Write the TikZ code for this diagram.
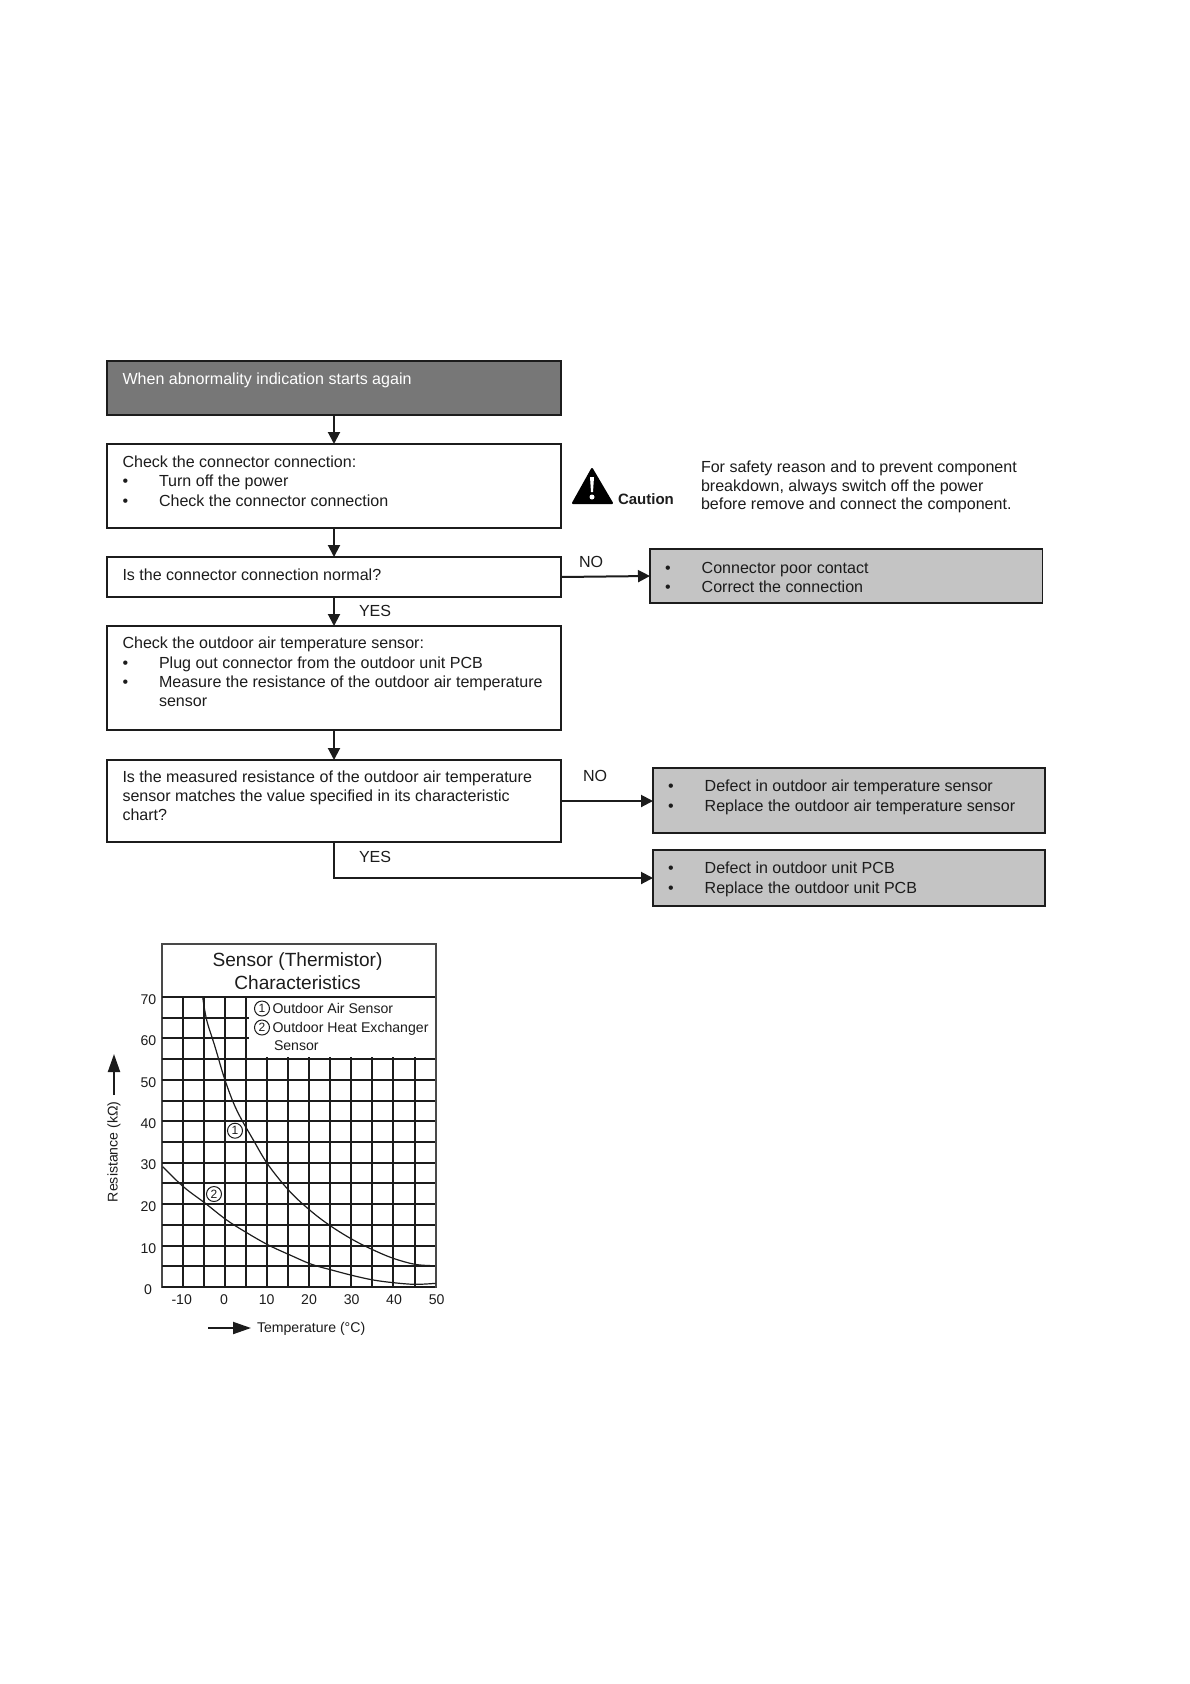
\documentclass[tikz,border=0pt]{standalone}
\usepackage{fontspec}
\setmainfont{Liberation Sans}
\usetikzlibrary{arrows.meta}
\definecolor{ink}{HTML}{1C1C1C}
\definecolor{headgrey}{HTML}{777777}
\definecolor{boxgrey}{HTML}{C4C4C4}
\tikzset{
  box/.style={draw=ink,line width=1.5pt,inner sep=0pt,outer sep=0pt,anchor=north west},
  whitebox/.style={box,fill=white},
  greybox/.style={box,fill=boxgrey},
  headbox/.style={box,fill=headgrey},
  txt/.style={anchor=base west,inner sep=0pt,outer sep=0pt,text=ink,font=\fontsize{16.05}{19}\selectfont},
  chart/.style={anchor=base west,inner sep=0pt,outer sep=0pt,text=ink,font=\fontsize{14.1}{17}\selectfont},
  tick/.style={anchor=center,inner sep=0pt,outer sep=0pt,text=ink,font=\fontsize{14.1}{17}\selectfont},
  ctitle/.style={anchor=base,inner sep=0pt,outer sep=0pt,text=ink,font=\fontsize{19.1}{22}\selectfont},
  num/.style={draw=ink,line width=1pt,circle,minimum size=15pt,inner sep=0pt,text=ink,font=\fontsize{12}{12}\selectfont},
  flow/.style={draw=ink,line width=2pt,-{Triangle[length=12pt,width=12pt]}},
  gridline/.style={draw=ink,line width=1.6pt},
  curve/.style={draw=ink,line width=1.2pt},
  axisarrow/.style={draw=ink,line width=2pt,-{Triangle[length=18pt,width=12pt]}}
}
\begin{document}
\begin{tikzpicture}[x=1pt,y=-1pt]
\useasboundingbox (0,0) rectangle (1190,1684);
\fill[white] (0,0) rectangle (1190,1684);
% boxes
\node[headbox,minimum width=454pt,minimum height=54pt] (head) at (107,361) {};
\node[whitebox,minimum width=454pt,minimum height=84pt] (chk) at (107,444) {};
\node[whitebox,minimum width=454pt,minimum height=40pt] (q1) at (107,557) {};
\node[whitebox,minimum width=454pt,minimum height=104pt] (sens) at (107,626) {};
\node[whitebox,minimum width=454pt,minimum height=82pt] (q2) at (107,760) {};
\node[greybox,minimum width=392.5pt,minimum height=54pt] (g1) at (650,549) {};
\node[greybox,minimum width=392pt,minimum height=65pt] (g2) at (653,768) {};
\node[greybox,minimum width=392pt,minimum height=56pt] (g3) at (653,850) {};
% connectors
\draw[flow] (head) -- (chk);
\draw[flow] (chk) -- (q1);
\draw[flow] (q1) -- (sens);
\draw[flow] (sens) -- (q2);
\draw[flow] (q1.east) -- (g1.west);
\draw[flow] (q2.east) -- (q2.east -| g2.west);
\draw[flow] (q2.south) |- (g3.west);
% flow text
\node[txt,text=white] (t0) at (122.5,384) {When abnormality indication starts again};
\node[txt] (t1) at (122.5,467) {Check the connector connection:};
\node[txt] (b1) at (122.5,486.5) {•};
\node[txt] (t2) at (159,486.5) {Turn off the power};
\node[txt] (b2) at (122.5,506) {•};
\node[txt] (t3) at (159,506) {Check the connector connection};
\node[txt] (t4) at (122.5,580) {Is the connector connection normal?};
\node[txt] (y1) at (359,616) {YES};
\node[txt] (t5) at (122.5,648.5) {Check the outdoor air temperature sensor:};
\node[txt] (b3) at (122.5,668) {•};
\node[txt] (t6) at (159,668) {Plug out connector from the outdoor unit PCB};
\node[txt] (b4) at (122.5,687) {•};
\node[txt] (t7) at (159,687) {Measure the resistance of the outdoor air temperature};
\node[txt] (t8) at (159,706) {sensor};
\node[txt] (t9) at (122.5,782.5) {Is the measured resistance of the outdoor air temperature};
\node[txt] (t10) at (122.5,801.5) {sensor matches the value specified in its characteristic};
\node[txt] (t11) at (122.5,820.5) {chart?};
\node[txt] (y2) at (359,862.5) {YES};
\node[txt] (n1) at (579,567) {NO};
\node[txt] (n2) at (583,781.5) {NO};
\node[txt] (b5) at (665,573) {•};
\node[txt] (t12) at (701.7,573) {Connector poor contact};
\node[txt] (b6) at (665,592.5) {•};
\node[txt] (t13) at (701.7,592.5) {Correct the connection};
\node[txt] (b7) at (668,791.5) {•};
\node[txt] (t14) at (704.7,791.5) {Defect in outdoor air temperature sensor};
\node[txt] (b8) at (668,811.5) {•};
\node[txt] (t15) at (704.7,811.5) {Replace the outdoor air temperature sensor};
\node[txt] (b9) at (668,873.5) {•};
\node[txt] (t16) at (704.7,873.5) {Defect in outdoor unit PCB};
\node[txt] (b10) at (668,893.5) {•};
\node[txt] (t17) at (704.7,893.5) {Replace the outdoor unit PCB};
% caution
\fill[black,line join=round,draw=black,line width=2pt] (592,469) -- (612,503) -- (573,503) -- cycle;
\fill[white] (590,477) -- (594,477) -- (593,492) -- (591,492) -- cycle;
\fill[white] (592,497) circle (2.5);
\node[txt,font=\fontsize{15}{17}\selectfont\bfseries] (caut) at (618,504) {Caution};
\node[txt] (s1) at (701,472.5) {For safety reason and to prevent component};
\node[txt] (s2) at (701,491) {breakdown, always switch off the power};
\node[txt] (s3) at (701,509.5) {before remove and connect the component.};
% chart
\draw[draw=ink!80,line width=1.4pt] (162,944) rectangle (436,1287);
\foreach \i in {0,3,4,...,14} {\pgfmathsetmacro{\gy}{round(997+\i*20.71)}\draw[gridline] (162,\gy) -- (435,\gy);}
\foreach \i in {1,2} {\pgfmathsetmacro{\gy}{round(997+\i*20.71)}\draw[gridline] (162,\gy) -- (249,\gy);}
\foreach \i in {1,2,3,4} {\pgfmathsetmacro{\gx}{round(161.7+\i*21.07)}\draw[gridline] (\gx,997) -- (\gx,1287);}
\foreach \i in {5,...,12} {\pgfmathsetmacro{\gx}{round(161.7+\i*21.07)}\draw[gridline] (\gx,1057) -- (\gx,1287);}
\begin{scope}[shift={(90,930)},x=0.33333pt,y=-0.33333pt]
\draw[curve] plot[smooth,tension=0.6] coordinates {(338,200)(350,270)(375,350)(405,450)(440,540)(490,630)(535,705)(600,785)(665,845)(725,890)(790,930)(850,960)(910,985)(975,1003)(1030,1007)};
\draw[curve] plot[smooth,tension=0.6] coordinates {(218,710)(280,770)(346,820)(410,870)(470,908)(535,945)(600,975)(665,1003)(725,1020)(790,1037)(850,1050)(910,1058)(975,1063)(1037,1060)};
\end{scope}
\node[ctitle] (ct1) at (297.5,966.5) {Sensor (Thermistor)};
\node[ctitle] (ct2) at (297.5,989) {Characteristics};
\node[num] (l1) at (262,1008.5) {1};
\node[num] (l2) at (262,1027.5) {2};
\node[chart] (lt1) at (272.5,1013.5) {Outdoor Air Sensor};
\node[chart] (lt2) at (272.5,1032.5) {Outdoor Heat Exchanger};
\node[chart] (lt3) at (274,1050.5) {Sensor};
\node[num,fill=white] (c1) at (235,1130.7) {1};
\node[num,fill=white] (c2) at (214,1194) {2};
\foreach \v/\yy in {70/1000,60/1041,50/1082.5,40/1123.5,30/1165,20/1207,10/1248.5} {\node[tick] (yl\v) at (148.5,\yy) {\v};}
\node[tick] (yl0) at (148,1290) {0};
\foreach \v/\xx in {-10/181.7,0/224,10/266.7,20/309,30/351.7,40/394,50/436.7} {\node[tick] (xl\v) at (\xx,1300) {\v};}
\node[chart,anchor=west] (xlab) at (257,1329) {Temperature (°C)};
\coordinate (xa1) at (208,1328);
\coordinate (xa2) at (251,1328);
\draw[axisarrow] (xa1) -- (xa2);
\node[tick,rotate=90] (ylab) at (114,1151.7) {Resistance (kΩ)};
\coordinate (ya1) at (114,1095);
\coordinate (ya2) at (114,1054);
\draw[axisarrow] (ya1) -- (ya2);
\end{tikzpicture}
\end{document}
